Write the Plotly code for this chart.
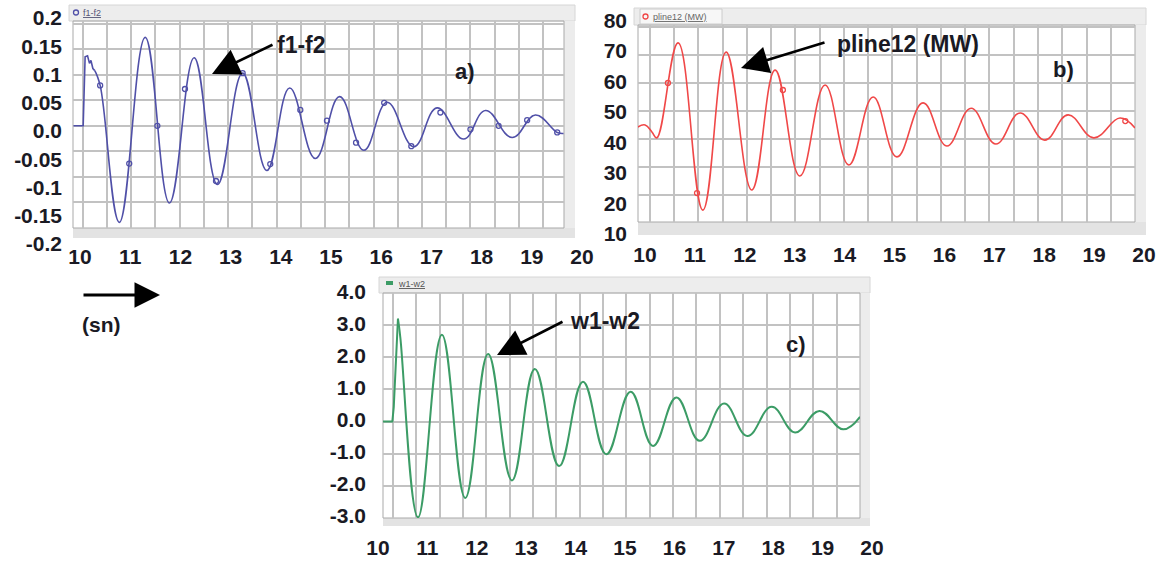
import plotly.graph_objects as go

W, H = 1163, 564

# ---------------- data ----------------
# a) f1-f2 : start-up part (drawn straight) then the swings (drawn smooth)
a_t = [9.81, 10.01, 10.05, 10.10, 10.14, 10.17, 10.21, 10.25, 10.36, 10.757, 11.29, 11.79,
       12.30, 12.78, 13.30, 13.80, 14.27, 14.80, 15.30, 15.80, 16.28, 16.83, 17.31, 17.86,
       18.31, 18.86, 19.34, 19.79, 19.92]
a_v = [0.0, 0.0, 0.135, 0.137, 0.122, 0.128, 0.112, 0.108, 0.079, -0.189, 0.173, -0.151,
       0.133, -0.115, 0.103, -0.0875, 0.074, -0.064, 0.057, -0.048, 0.046, -0.041, 0.035, -0.026,
       0.030, -0.023, 0.021, -0.013, -0.015]
a_split = 7
a_mark_t = [10.36, 10.96, 11.54, 12.11, 12.75, 13.30, 13.87, 14.49, 15.04, 15.64, 16.22, 16.78,
            17.38, 18.00, 18.58, 19.17, 19.79]
a_mark_v = [0.079, -0.074, 0.0, 0.072, -0.108, 0.103, -0.075, 0.031, 0.010, -0.033, 0.045, -0.040,
            0.026, -0.007, 0.0, 0.011, -0.013]

# b) pline12 (MW)
b_t = [9.75, 9.90, 10.04, 10.14, 10.58, 11.09, 11.57, 12.10, 12.58, 13.09, 13.61, 14.10,
       14.60, 15.09, 15.63, 16.12, 16.62, 17.13, 17.63, 18.14, 18.62, 19.15, 19.69, 20.0]
b_v = [44.3, 45.0, 42.5, 40.4, 74.3, 14.6, 71.0, 21.8, 64.6, 26.8, 59.3, 30.7,
       55.0, 33.6, 52.9, 37.5, 51.0, 38.2, 49.3, 39.6, 48.6, 40.4, 47.5, 43.9]
b_split = 0
b_mark_t = [10.37, 10.97, 12.74, 19.80]
b_mark_v = [60.0, 20.7, 57.5, 46.4]

# c) w1-w2
c_t = [9.79, 9.99, 10.02, 10.11, 10.16, 10.54, 11.05, 11.55, 12.04, 12.55, 13.04, 13.56,
       14.07, 14.57, 15.09, 15.57, 16.07, 16.57, 17.09, 17.59, 18.11, 18.61, 19.13, 19.64, 20.0]
c_v = [0.0, 0.0, 0.45, 3.2, 2.63, -2.98, 2.70, -2.375, 2.10, -1.83, 1.635, -1.385,
       1.24, -1.02, 0.93, -0.76, 0.75, -0.60, 0.56, -0.45, 0.46, -0.34, 0.33, -0.24, 0.15]
c_split = 3
c_mark_t = []
c_mark_v = []

# tick labels
x_tick_vals = [10, 11, 12, 13, 14, 15, 16, 17, 18, 19, 20]
x_tick_text = ["10", "11", "12", "13", "14", "15", "16", "17", "18", "19", "20"]
a_ytick_vals = [0.2, 0.15, 0.1, 0.05, 0.0, -0.05, -0.1, -0.15, -0.2]
a_ytick_text = ["0.2", "0.15", "0.1", "0.05", "0.0", "-0.05", "-0.1", "-0.15", "-0.2"]
b_ytick_vals = [80, 70, 60, 50, 40, 30, 20, 10]
b_ytick_text = ["80", "70", "60", "50", "40", "30", "20", "10"]
c_ytick_vals = [4, 3, 2, 1, 0, -1, -2, -3]
c_ytick_text = ["4.0", "3.0", "2.0", "1.0", "0.0", "-1.0", "-2.0", "-3.0"]

# ---------------- helpers (pixel -> paper fraction) ----------------
def fx(p):
    return p / W

def fy(p):
    return 1 - p / H

FONT = "Arial, Liberation Sans, sans-serif"
TXT = "#1a1a24"
GRID = "#c2c2c2"

fig = go.Figure()

series = [
    (a_t, a_v, a_split, a_mark_t, a_mark_v, "#5050a8", "x", "y", 1.6),
    (b_t, b_v, b_split, b_mark_t, b_mark_v, "#f04848", "x2", "y2", 1.6),
    (c_t, c_v, c_split, c_mark_t, c_mark_v, "#3c9c66", "x3", "y3", 2.0),
]
for t, v, k, mt, mv, col, xa, ya, lw in series:
    if k > 0:
        fig.add_trace(go.Scatter(x=t[:k + 1], y=v[:k + 1], mode="lines", xaxis=xa, yaxis=ya,
                                 line=dict(color=col, width=lw), showlegend=False,
                                 hoverinfo="skip"))
    fig.add_trace(go.Scatter(x=t[k:], y=v[k:], mode="lines", xaxis=xa, yaxis=ya,
                             line=dict(color=col, width=lw, shape="spline", smoothing=1.2),
                             showlegend=False, hoverinfo="skip"))
    if mt:
        fig.add_trace(go.Scatter(x=mt, y=mv, mode="markers", xaxis=xa, yaxis=ya,
                                 marker=dict(symbol="circle-open", size=5, color=col,
                                             line=dict(width=1.3, color=col)),
                                 showlegend=False, hoverinfo="skip"))

# empty traces for label-only axes
for xa, ya in [("x4", "y4"), ("x5", "y5"), ("x6", "y6")]:
    fig.add_trace(go.Scatter(x=[], y=[], xaxis=xa, yaxis=ya, showlegend=False, hoverinfo="skip"))

def data_axis(dom, rng, dtick, tick0, anchor):
    return dict(domain=dom, range=rng, dtick=dtick, tick0=tick0, anchor=anchor,
                showgrid=True, gridcolor=GRID, gridwidth=1.6, zeroline=False,
                showticklabels=False, ticks="", showline=False, fixedrange=True,
                automargin=False)

def label_axis(dom, rng, vals, text, pos):
    return dict(domain=dom, range=rng, anchor="free", position=pos, tickmode="array",
                tickvals=vals, ticktext=text, showgrid=False, zeroline=False, showline=False,
                ticks="", fixedrange=True, automargin=False,
                tickfont=dict(family=FONT, size=21, color=TXT, weight="bold"))

layout_axes = dict(
    xaxis=data_axis([fx(73), fx(564)], [9.80, 19.93], 0.5, 10, "y"),
    yaxis=data_axis([fy(228), fy(21)], [-0.2, 0.205], 0.05, 0, "x"),
    xaxis2=data_axis([fx(638), fx(1135)], [9.753, 20.0], 0.5, 10, "y2"),
    yaxis2=data_axis([fy(222), fy(25)], [10.36, 80.7], 10, 0, "x2"),
    xaxis3=data_axis([fx(383), fx(860)], [9.79, 20.0], 0.5, 10, "y3"),
    yaxis3=data_axis([fy(518), fy(293)], [-3, 4], 1, 0, "x3"),
    xaxis4=label_axis([fx(80), fx(582)], [10, 20], x_tick_vals, x_tick_text, fy(242)),
    yaxis4=label_axis([fy(244), fy(18)], [-0.2, 0.2], a_ytick_vals, a_ytick_text, fx(62)),
    xaxis5=label_axis([fx(645), fx(1144)], [10, 20], x_tick_vals, x_tick_text, fy(240)),
    yaxis5=label_axis([fy(234), fy(20.5)], [10, 80], b_ytick_vals, b_ytick_text, fx(627)),
    xaxis6=label_axis([fx(378), fx(872)], [10, 20], x_tick_vals, x_tick_text, fy(533)),
    yaxis6=label_axis([fy(516), fy(291.5)], [-3, 4], c_ytick_vals, c_ytick_text, fx(366)),
)

shapes = []
def rect(x0, y0, x1, y1, fill, line="rgba(0,0,0,0)", lw=0, layer="below"):
    shapes.append(dict(type="rect", xref="paper", yref="paper", x0=fx(x0), x1=fx(x1),
                       y0=fy(y1), y1=fy(y0), fillcolor=fill, line=dict(color=line, width=lw),
                       layer=layer))

# panel frames: header, right strip, bottom bar, plot border
for (L, T, R, B, hdr_top, strip_r, bar_b) in [
        (73, 21, 564, 228, 5, 575, 238),
        (638, 25, 1135, 222, 8, 1146, 235),
        (383, 293, 860, 518, 277, 870, 526)]:
    rect(L - 4, hdr_top, strip_r, T, "#ededed", "#d6d6d6", 1)
    rect(R, T, strip_r, bar_b, "#ececec")
    rect(L, B, strip_r, bar_b, "#e3e3e3")
    rect(L, T, R, B, "rgba(0,0,0,0)", "#a9a9a9", 1)

# legend tab for b)
rect(640, 9, 722, 24, "#f7f7f7", "#cccccc", 1)
# legend symbols
shapes.append(dict(type="circle", xref="paper", yref="paper", x0=fx(73.5), x1=fx(78.5),
                   y0=fy(15), y1=fy(10), line=dict(color="#5050a8", width=1.3)))
shapes.append(dict(type="circle", xref="paper", yref="paper", x0=fx(643), x1=fx(648),
                   y0=fy(19), y1=fy(14), line=dict(color="#f04848", width=1.3)))
rect(386, 281, 393, 285, "#3c9c66", layer="above")

annotations = []
def label(text, px, py, size, bold=True, color=TXT, xanchor="center"):
    annotations.append(dict(text=("<b>%s</b>" % text) if bold else text, x=fx(px), y=fy(py),
                            xref="paper", yref="paper", showarrow=False, xanchor=xanchor,
                            yanchor="middle", font=dict(family=FONT, size=size, color=color)))

def arrow(hx, hy, tx, ty, w=2.6, s=2.1):
    annotations.append(dict(text="", x=fx(hx), y=fy(hy), xref="paper", yref="paper",
                            ax=tx - hx, ay=ty - hy, showarrow=True, arrowhead=2,
                            arrowsize=s, arrowwidth=w, arrowcolor="#000000"))

label("<u>f1-f2</u>", 81, 12.5, 9, bold=False, color="#555577", xanchor="left")
label("<u>pline12 (MW)</u>", 651, 16.5, 9, bold=False, color="#666666", xanchor="left")
label("<u>w1-w2</u>", 396, 283.5, 9, bold=False, color="#555555", xanchor="left")

label("f1-f2", 301, 45, 23)
arrow(212, 74, 274, 44)
label("a)", 465, 72, 22)
label("pline12 (MW)", 908, 44, 23)
arrow(741, 68, 826, 42)
label("b)", 1063, 69, 22)
label("w1-w2", 605, 321, 23)
arrow(497, 355, 564, 321)
label("c)", 796, 344, 22)
label("(sn)", 101, 324, 21)
arrow(160, 295, 82, 295, w=3, s=1.7)

fig.update_layout(width=W, height=H, margin=dict(l=0, r=0, t=0, b=0, pad=0, autoexpand=False),
                  paper_bgcolor="white", plot_bgcolor="rgba(0,0,0,0)",
                  shapes=shapes, annotations=annotations, showlegend=False,
                  **layout_axes)

fig.write_html("out.html")
